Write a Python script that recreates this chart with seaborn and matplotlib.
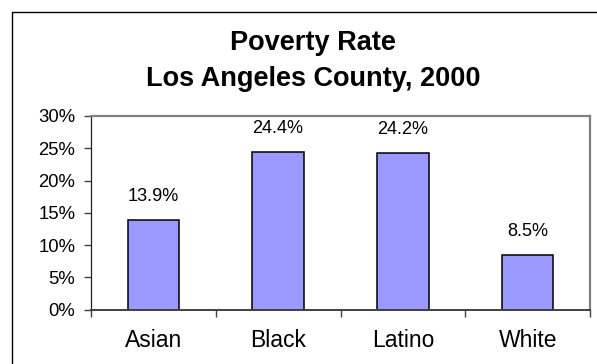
import matplotlib
matplotlib.use("Agg")
import matplotlib.pyplot as plt
from matplotlib.patches import Rectangle
from matplotlib.ticker import FuncFormatter, FixedLocator
import seaborn as sns
import pandas as pd

groups = ["Asian", "Black", "Latino", "White"]
poverty_rate = [13.9, 24.4, 24.2, 8.5]
title_lines = ["Poverty Rate", "Los Angeles County, 2000"]

sns.set_theme(style="white")
plt.rcParams["font.family"] = ["Liberation Sans", "DejaVu Sans"]

df = pd.DataFrame({"group": groups, "rate": poverty_rate})

fig = plt.figure(figsize=(5.97, 3.64), dpi=100)
fig.patch.set_facecolor("white")

# outer chart frame (extends past the right and bottom edges)
fig.patches.append(Rectangle((12 / 597, -0.1), 1.2, 1 - 12 / 364 + 0.1,
                             transform=fig.transFigure, fill=False,
                             edgecolor="black", linewidth=1.0, figure=fig))

ax = fig.add_axes([90.7 / 597, 1 - 309.7 / 364, (590.3 - 90.7) / 597, (309.7 - 116) / 364])

sns.barplot(data=df, x="group", y="rate", color="#9999FF", width=0.41,
            edgecolor="black", linewidth=1.1, saturation=1, ax=ax)

ax.set_ylim(0, 30)
ax.set_xlim(-0.5, len(groups) - 0.5)
ax.set_yticks(range(0, 31, 5))
ax.yaxis.set_major_formatter(FuncFormatter(lambda v, _: f"{v:.0f}%"))
ax.set_xlabel("")
ax.set_ylabel("")

# tick marks sit between categories
ax.xaxis.set_minor_locator(FixedLocator([i - 0.5 for i in range(len(groups) + 1)]))
ax.tick_params(axis="x", which="major", length=0, pad=14, labelsize=16.5, colors="black")
ax.tick_params(axis="x", which="minor", bottom=True, length=5, width=1, color="#404040", direction="out")
ax.tick_params(axis="y", which="major", left=True, length=5, width=1, color="#404040",
               direction="out", pad=6, labelsize=13.3, labelcolor="black")

for side in ["top", "right"]:
    ax.spines[side].set_color("#808080")
    ax.spines[side].set_linewidth(1.6)
ax.spines["left"].set_color("#202020")
ax.spines["left"].set_linewidth(0.9)
ax.spines["bottom"].set_color("#404040")
ax.spines["bottom"].set_linewidth(1.4)

for i, v in enumerate(poverty_rate):
    ax.annotate(f"{v:.1f}%", (i, v), xytext=(0, 11), textcoords="offset points",
                ha="center", va="bottom", fontsize=13.1, color="black")

fig.text(313 / 597, 1 - 50 / 364, title_lines[0], ha="center", va="baseline",
         fontsize=19.5, fontweight="bold", color="black")
fig.text(313 / 597, 1 - 86 / 364, title_lines[1], ha="center", va="baseline",
         fontsize=19.5, fontweight="bold", color="black")

fig.savefig("out.png", dpi=100)
